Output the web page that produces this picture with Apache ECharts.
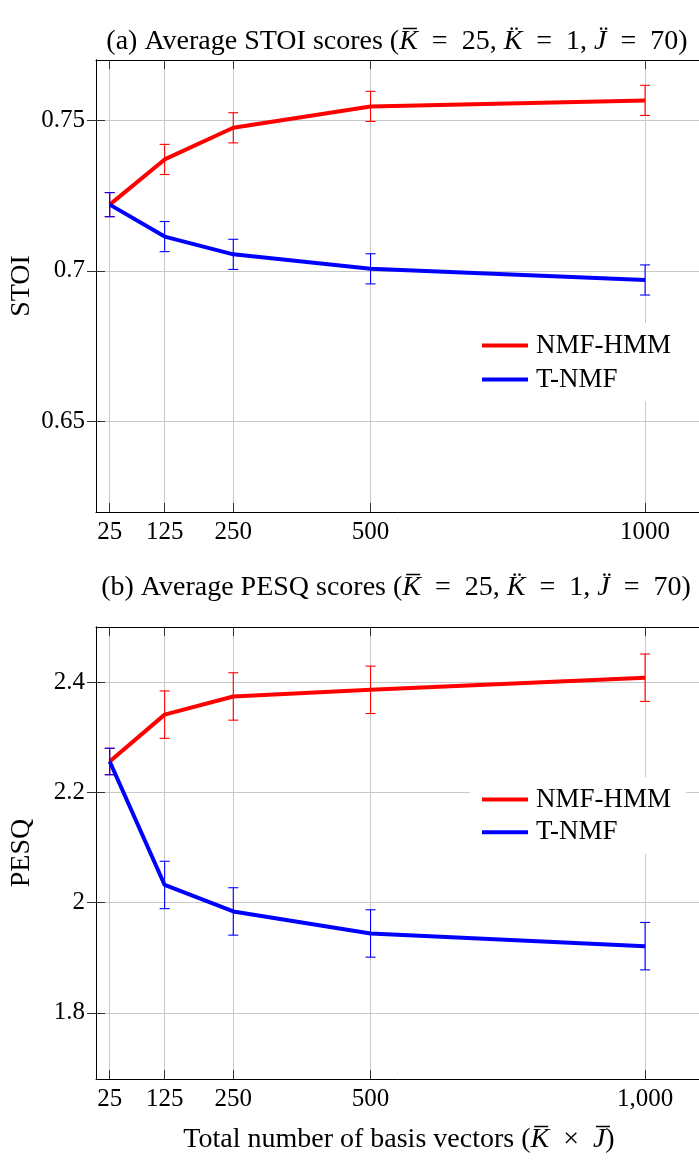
<!DOCTYPE html>
<html><head><meta charset="utf-8">
<script src="https://cdn.jsdelivr.net/npm/echarts@6/dist/echarts.min.js"></script>
<style>html,body{margin:0;padding:0;background:#fff}#c{width:699px;height:1162px}</style>
</head><body><div id="c"></div>
<script>
// ---- data ----
const xValues = [25, 125, 250, 500, 1000];
const xTickLabelsA = ['25', '125', '250', '500', '1000'];
const xTickLabelsB = ['25', '125', '250', '500', '1,000'];
const stoiTicks = [0.65, 0.7, 0.75];
const pesqTicks = [1.8, 2, 2.2, 2.4];
const stoiNmfHmm = [0.722, 0.737, 0.7475, 0.7546, 0.7566];
const stoiNmfHmmErr = [0.004, 0.005, 0.005, 0.005, 0.005];
const stoiTNmf = [0.722, 0.7114, 0.7055, 0.7007, 0.697];
const stoiTNmfErr = [0.004, 0.005, 0.005, 0.005, 0.005];
const pesqNmfHmm = [2.256, 2.341, 2.374, 2.386, 2.408];
const pesqNmfHmmErr = [0.024, 0.043, 0.043, 0.043, 0.043];
const pesqTNmf = [2.256, 2.032, 1.984, 1.944, 1.921];
const pesqTNmfErr = [0.024, 0.043, 0.043, 0.043, 0.043];

const FONT = 'Liberation Serif';
const RED = '#ff0000', BLUE = '#0000ff';

function errRender(color) {
  return function (params, api) {
    const x = api.value(0), lo = api.value(1), hi = api.value(2);
    const a = api.coord([x, hi]), b = api.coord([x, lo]);
    const w = 5;
    const style = { stroke: color, lineWidth: 1.1, fill: null };
    return { type: 'group', children: [
      { type: 'line', shape: { x1: a[0], y1: a[1], x2: b[0], y2: b[1] }, style: style },
      { type: 'line', shape: { x1: a[0] - w, y1: a[1], x2: a[0] + w, y2: a[1] }, style: style },
      { type: 'line', shape: { x1: b[0] - w, y1: b[1], x2: b[0] + w, y2: b[1] }, style: style }
    ] };
  };
}
function pairs(ys) { return xValues.map((x, i) => [x, ys[i]]); }
function errs(ys, es) { return xValues.map((x, i) => [x, ys[i] - es[i], ys[i] + es[i]]); }

function seriesFor(g, name, color, ys, es, zBase) {
  return [
    { type: 'custom', xAxisIndex: g, yAxisIndex: g, renderItem: errRender(color),
      encode: { x: 0, y: [1, 2] }, data: errs(ys, es), z: zBase, silent: true },
    { type: 'line', name: name, xAxisIndex: g, yAxisIndex: g, data: pairs(ys), color: color,
      symbol: 'none', lineStyle: { width: 4, color: color }, z: zBase + 1, silent: true }
  ];
}

const grids = [
  { left: 96, top: 60, width: 604, height: 452, outerBoundsMode: 'none' },
  { left: 96, top: 627, width: 604, height: 452, outerBoundsMode: 'none' }
];
function xBottom(g, labels) {
  return { type: 'value', gridIndex: g, min: 0, max: 1100, position: 'bottom',
    axisLine: { show: true, lineStyle: { color: '#000', width: 1 } },
    axisTick: { show: true, inside: true, length: 9, customValues: xValues, lineStyle: { color: '#333' } },
    axisLabel: { customValues: xValues, formatter: v => labels[xValues.indexOf(v)],
      fontFamily: FONT, fontSize: 25, color: '#000', margin: 8 },
    splitLine: { show: true, lineStyle: { color: '#c8c8c8', width: 1 } } };
}
function xTop(g) {
  return { type: 'value', gridIndex: g, min: 0, max: 1100, position: 'top',
    axisLine: { show: true, lineStyle: { color: '#000', width: 1 } },
    axisTick: { show: true, inside: true, length: 9, customValues: xValues, lineStyle: { color: '#333' } },
    axisLabel: { show: false }, splitLine: { show: false } };
}
function yLeft(g, min, max, ticks, name) {
  return { type: 'value', gridIndex: g, min: min, max: max, position: 'left',
    name: name, nameLocation: 'middle', nameGap: 60, nameMoveOverlap: false,
    nameTextStyle: { fontFamily: FONT, fontSize: 28, color: '#000' },
    axisLine: { show: true, lineStyle: { color: '#000', width: 1 } },
    axisTick: { show: true, inside: true, length: 9, customValues: ticks, lineStyle: { color: '#333' } },
    axisLabel: { customValues: ticks, fontFamily: FONT, fontSize: 25, color: '#000', margin: 11 },
    splitLine: { show: true, lineStyle: { color: '#c8c8c8', width: 1 } } };
}
function yRight(g, min, max, ticks) {
  return { type: 'value', gridIndex: g, min: min, max: max, position: 'right',
    axisLine: { show: true, lineStyle: { color: '#000', width: 1 } },
    axisTick: { show: true, inside: true, length: 9, customValues: ticks, lineStyle: { color: '#333' } },
    axisLabel: { show: false }, splitLine: { show: false } };
}
function legendAt(top, gap) {
  return { data: ['NMF-HMM', 'T-NMF'], orient: 'vertical', left: 470, top: top,
    padding: [9, 15, 8, 12], itemGap: gap, icon: 'rect', itemWidth: 46, itemHeight: 4,
    backgroundColor: '#fff', selectedMode: false,
    textStyle: { fontFamily: FONT, fontSize: 27, color: '#000', lineHeight: 26, padding: [0, 0, 0, 3] } };
}
const FS = 28;
const rich = {
  i: { fontFamily: FONT, fontSize: FS, fontStyle: 'italic', fill: '#000' },
  r: { fontFamily: FONT, fontSize: FS, fill: '#000' }
};
function label(x, y, text) {
  return { type: 'text', x: x, y: y, silent: true,
    style: { text: text, fontFamily: FONT, fontSize: FS, fill: '#000', align: 'center', verticalAlign: 'middle', rich: rich } };
}
const EQ = '\u2002=\u2002';

const option = {
  animation: false,
  backgroundColor: '#fff',
  grid: grids,
  xAxis: [xBottom(0, xTickLabelsA), xBottom(1, xTickLabelsB), xTop(0), xTop(1)],
  yAxis: [yLeft(0, 0.62, 0.77, stoiTicks, 'STOI'), yLeft(1, 1.68, 2.5, pesqTicks, 'PESQ'),
          yRight(0, 0.62, 0.77, stoiTicks), yRight(1, 1.68, 2.5, pesqTicks)],
  legend: [legendAt(323, 7), legendAt(777, 5.7)],
  series: [].concat(
    seriesFor(0, 'NMF-HMM', RED, stoiNmfHmm, stoiNmfHmmErr, 2),
    seriesFor(0, 'T-NMF', BLUE, stoiTNmf, stoiTNmfErr, 4),
    seriesFor(1, 'NMF-HMM', RED, pesqNmfHmm, pesqNmfHmmErr, 2),
    seriesFor(1, 'T-NMF', BLUE, pesqTNmf, pesqTNmfErr, 4)
  ),
  graphic: [
    label(397, 42, '{r|(a) Average STOI scores (}{i|K\u0305}{r|' + EQ + '25, }{i|K\u0308}{r|' + EQ + '1, }{i|J\u0308}{r|' + EQ + '70)}'),
    label(396, 588, '{r|(b) Average PESQ scores (}{i|K\u0305}{r|' + EQ + '25, }{i|K\u0308}{r|' + EQ + '1, }{i|J\u0308}{r|' + EQ + '70)}'),
    label(399, 1140, '{r|Total number of basis vectors (}{i|K\u0305}{r|\u2002\u00d7\u2002}{i|J\u0305}{r|)}')
  ]
};
echarts.init(document.getElementById('c'), null, { renderer: 'canvas' }).setOption(option);
</script></body></html>
